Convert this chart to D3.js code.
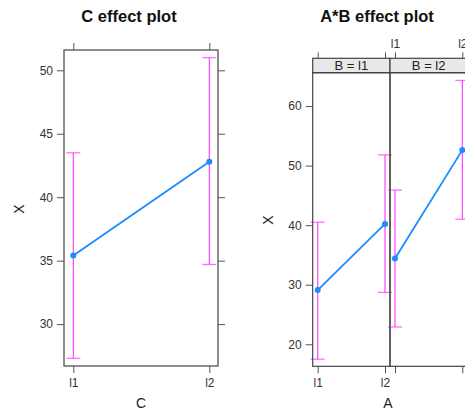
<!DOCTYPE html>
<html>
<head>
<meta charset="utf-8">
<script src="https://cdn.jsdelivr.net/npm/d3@7"></script>
<style>
  body { margin: 0; background: #fff; }
  svg { display: block; font-family: "Liberation Sans", Arial, sans-serif; }
  .tick text { fill: #333; font-size: 12px; }
  .tick line { stroke: #555; }
</style>
</head>
<body>
<svg id="chart" width="465" height="412"></svg>
<script>
// C effect
const cLevels = ["l1", "l2"];
const cFit = [35.4, 42.8];
const cLower = [27.3, 34.7];
const cUpper = [43.5, 51.0];
const cTicks = [30, 35, 40, 45, 50];

// A*B effect, one array per B panel
const aLevels = ["l1", "l2"];
const bPanels = ["B = l1", "B = l2"];
const abFit = [[29.1, 40.2], [34.4, 52.6]];
const abLower = [[17.5, 28.7], [22.9, 41.0]];
const abUpper = [[40.5, 51.8], [45.9, 64.3]];
const abTicks = [20, 30, 40, 50, 60];

const lineCol = "#1a8cff";
const ciCol = "#ff33ff";
const frameCol = "#444";

const svg = d3.select("#chart");

function drawSeries(g, x, y, fit, lower, upper) {
    const pts = aLevels.map((lv, i) => ({ lv: lv, fit: fit[i], lo: lower[i], hi: upper[i] }));
    // error bars
    pts.forEach(d => {
        g.append("line").attr("x1", x(d.lv)).attr("x2", x(d.lv))
            .attr("y1", y(d.lo)).attr("y2", y(d.hi))
            .attr("stroke", ciCol).attr("stroke-width", 1.1);
        [d.lo, d.hi].forEach(v => {
            g.append("line").attr("x1", x(d.lv) - 7).attr("x2", x(d.lv) + 7)
                .attr("y1", y(v)).attr("y2", y(v))
                .attr("stroke", ciCol).attr("stroke-opacity", 0.7).attr("stroke-width", 1.3);
        });
    });
    g.append("path")
        .datum(pts)
        .attr("fill", "none")
        .attr("stroke", lineCol)
        .attr("stroke-width", 1.8)
        .attr("d", d3.line().x(d => x(d.lv)).y(d => y(d.fit)));
    g.selectAll(null).data(pts).enter().append("circle")
        .attr("cx", d => x(d.lv)).attr("cy", d => y(d.fit))
        .attr("r", 3).attr("fill", lineCol);
}

function cleanAxis(sel) {
    sel.select(".domain").remove();
}

// ---------- left: C effect plot ----------
{
    const left = 64, right = 218, top = 50, bottom = 366;
    const x = d3.scalePoint().domain(cLevels).range([73.3, 209.3]);
    const y = d3.scaleLinear().domain([26.7, 51.6]).range([bottom, top]);
    const g = svg.append("g");

    g.append("g").attr("transform", `translate(${left},0)`)
        .call(d3.axisLeft(y).tickValues(cTicks).tickSize(7).tickPadding(4)).call(cleanAxis);
    g.append("g").attr("transform", `translate(${right},0)`)
        .call(d3.axisRight(y).tickValues(cTicks).tickSize(7).tickFormat("")).call(cleanAxis);
    g.append("g").attr("transform", `translate(0,${bottom})`)
        .call(d3.axisBottom(x).tickSize(7).tickPadding(5)).call(cleanAxis);
    g.append("g").attr("transform", `translate(0,${top})`)
        .call(d3.axisTop(x).tickSize(7).tickFormat("")).call(cleanAxis);

    drawSeries(g, x, y, cFit, cLower, cUpper);

    g.append("rect").attr("x", left).attr("y", top)
        .attr("width", right - left).attr("height", bottom - top)
        .attr("fill", "none").attr("stroke", frameCol).attr("stroke-width", 1.2);

    g.append("text").attr("x", 129).attr("y", 22).attr("text-anchor", "middle")
        .attr("font-weight", "bold").attr("font-size", 16.5).attr("fill", "#111")
        .text("C effect plot");
    g.append("text").attr("x", 141).attr("y", 408).attr("text-anchor", "middle")
        .attr("font-size", 14).attr("fill", "#222").text("C");
    g.append("text").attr("transform", "translate(24,209) rotate(-90)")
        .attr("text-anchor", "middle").attr("font-size", 14).attr("fill", "#222").text("X");
}

// ---------- right: A*B effect plot ----------
{
    const left = 312.7, pw = 77.3, stripTop = 58.3, top = 72.7, bottom = 366.3;
    const y = d3.scaleLinear().domain([16.3, 65.6]).range([bottom, top]);
    const g = svg.append("g");

    g.append("g").attr("transform", `translate(${left},0)`)
        .call(d3.axisLeft(y).tickValues(abTicks).tickSize(7).tickPadding(4)).call(cleanAxis);

    bPanels.forEach((lab, p) => {
        const x0 = left + p * pw;
        const x = d3.scalePoint().domain(aLevels).range([x0 + 5, x0 + pw - 5]);
        if (p === 0) {
            g.append("g").attr("transform", `translate(0,${bottom})`)
                .call(d3.axisBottom(x).tickSize(7).tickPadding(5)).call(cleanAxis);
            g.append("g").attr("transform", `translate(0,${stripTop})`)
                .call(d3.axisTop(x).tickSize(6).tickFormat("")).call(cleanAxis);
        } else {
            g.append("g").attr("transform", `translate(0,${stripTop})`)
                .call(d3.axisTop(x).tickSize(6).tickPadding(4)).call(cleanAxis);
            g.append("g").attr("transform", `translate(0,${bottom})`)
                .call(d3.axisBottom(x).tickSize(7).tickFormat("")).call(cleanAxis);
        }

        drawSeries(g, x, y, abFit[p], abLower[p], abUpper[p]);

        g.append("rect").attr("x", x0).attr("y", stripTop)
            .attr("width", pw).attr("height", top - stripTop)
            .attr("fill", "#e8e8e8").attr("stroke", frameCol).attr("stroke-width", 1.2);
        g.append("text").attr("x", x0 + pw / 2).attr("y", stripTop + 11.5)
            .attr("text-anchor", "middle").attr("font-size", 13).attr("fill", "#222").text(lab);
        g.append("rect").attr("x", x0).attr("y", top)
            .attr("width", pw).attr("height", bottom - top)
            .attr("fill", "none").attr("stroke", frameCol).attr("stroke-width", 1.2);
    });

    g.append("text").attr("x", 377).attr("y", 22).attr("text-anchor", "middle")
        .attr("font-weight", "bold").attr("font-size", 16.5).attr("fill", "#111")
        .text("A*B effect plot");
    g.append("text").attr("x", 388).attr("y", 408).attr("text-anchor", "middle")
        .attr("font-size", 14).attr("fill", "#222").text("A");
    g.append("text").attr("transform", "translate(273,220) rotate(-90)")
        .attr("text-anchor", "middle").attr("font-size", 14).attr("fill", "#222").text("X");
}
</script>
</body>
</html>
